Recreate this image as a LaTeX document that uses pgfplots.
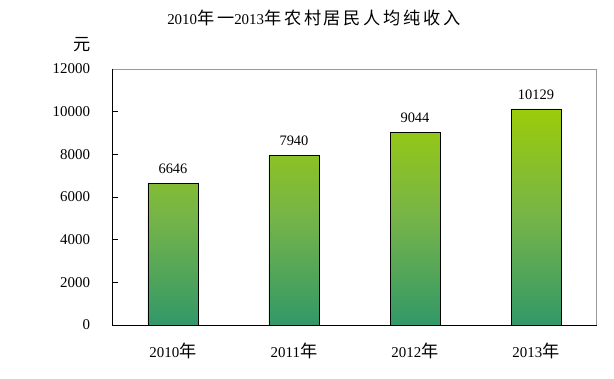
\documentclass[border=0pt]{standalone}
\usepackage{pgfplots}
\pgfplotsset{compat=1.18}
\usepackage{fontspec}
\setmainfont{Liberation Serif}
\newfontfamily\cjk[Scale=1.15]{Noto Sans CJK SC}
\newfontfamily\cjkt[Scale=1.15,LetterSpace=16]{Noto Sans CJK SC}
\definecolor{bartop}{RGB}{155,204,10}
\definecolor{barmid}{RGB}{118,180,72}
\definecolor{barbot}{RGB}{50,152,104}
\begin{document}
\begin{tikzpicture}
\path[use as bounding box] (0,0) rectangle (614bp,379bp);
\node[font=\fontsize{15}{17}\selectfont] at (314bp,361bp) {2010{\cjkt 年一}2013{\cjkt 年农村居民人均纯收入}};
\begin{axis}[
  at={(112.5bp,54bp)}, anchor=south west,
  scale only axis, width=484bp, height=256bp,
  xmin=-0.5, xmax=3.5, ymin=0, ymax=12000,
  ytick={0,2000,...,12000},
  xtick={0,1,2,3},
  xticklabels={2010{\cjk 年},2011{\cjk 年},2012{\cjk 年},2013{\cjk 年}},
  major x tick style={draw=none},
  extra x ticks={0.5,1.5,2.5},
  extra x tick labels={},
  extra x tick style={major tick length=5bp, tick style={black}},
  tick pos=left,
  tick align=inside,
  major tick length=5bp,
  tick style={black, line width=0.8pt},
  axis line style={gray!80, line width=0.8pt},
  scaled y ticks=false,
  /pgf/number format/assume math mode=true,
  /pgf/number format/1000 sep={},
  ticklabel style={font=\fontsize{15}{17}\selectfont},
  yticklabel style={xshift=-19bp},
  xticklabel style={yshift=-14bp},
  clip=false,
]
\addplot[ybar, bar width=50bp, draw=black, line width=0.8pt,
  top color=bartop, bottom color=barbot, middle color=barmid,
  nodes near coords,
  every node near coord/.append style={font=\fontsize{14.5}{16}\selectfont, black, yshift=6bp},
  /pgf/number format/1000 sep={}]
  coordinates {(0,6646) (1,7940) (2,9044) (3,10129)};
\draw[black, line width=0.8pt] (rel axis cs:0,1) -- (rel axis cs:0,0) -- (rel axis cs:1,0);
\node[font=\fontsize{15}{17}\selectfont\cjk] at ([xshift=-30bp,yshift=24bp]rel axis cs:0,1) {元};
\end{axis}
\end{tikzpicture}
\end{document}
